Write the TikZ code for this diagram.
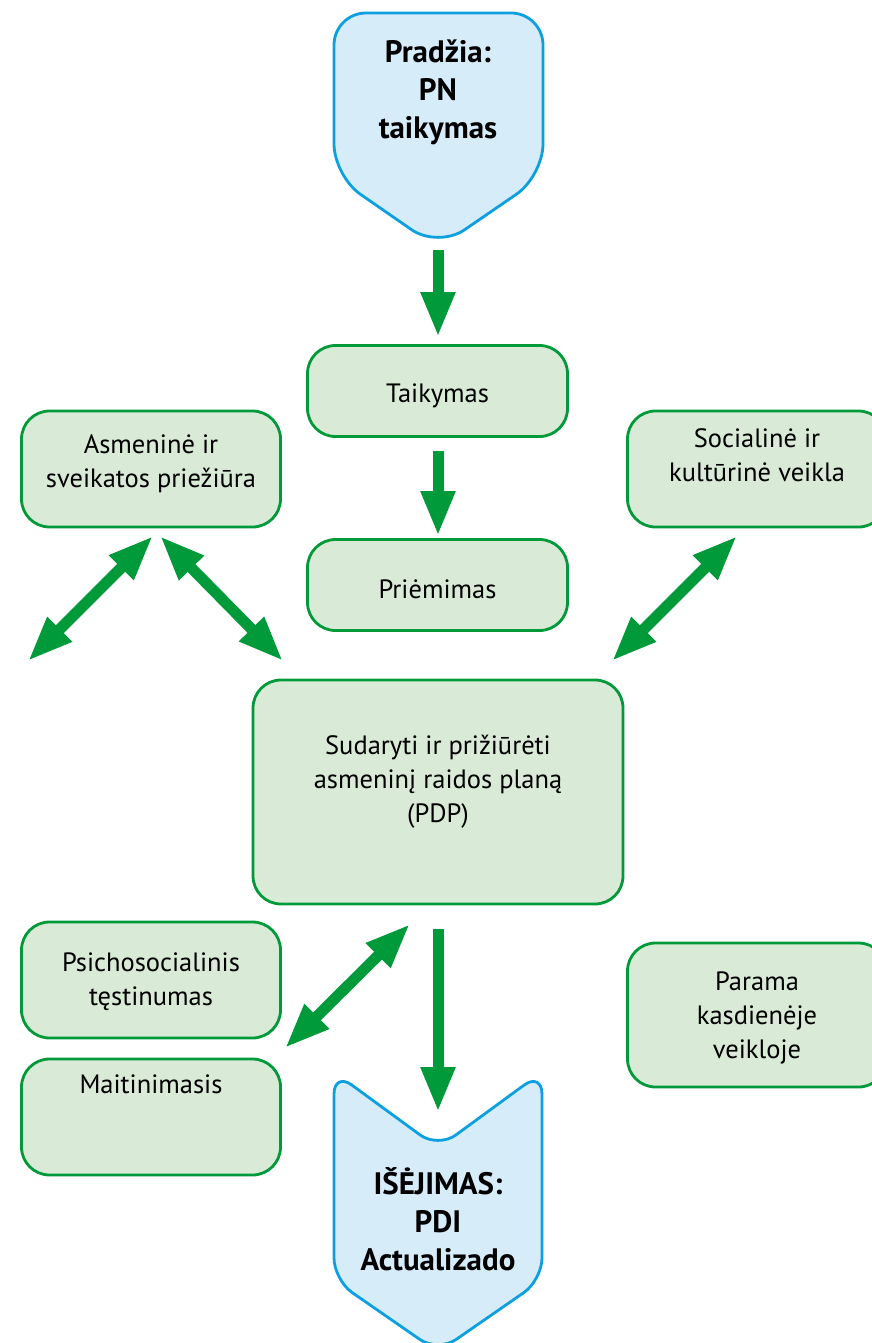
\documentclass[tikz,border=0pt]{standalone}
\usepackage{fontspec}
\setmainfont{PT Sans}
\usetikzlibrary{arrows.meta}
\definecolor{leaf}{HTML}{009A3A}
\definecolor{leaffill}{HTML}{D9EAD6}
\definecolor{sky}{HTML}{0CA0E0}
\definecolor{skyfill}{HTML}{D6ECF9}
\tikzset{
  box/.style={draw=leaf, fill=leaffill, line width=2.8pt, rounded corners=28pt, inner sep=0pt},
  txt/.style={font=\fontsize{26.5}{34}\selectfont, align=center, inner sep=0pt, anchor=base},
  ttl/.style={font=\bfseries\fontsize{31}{38}\selectfont, align=center, inner sep=0pt, anchor=base},
  tag/.style={draw=sky, fill=skyfill, line width=2.8pt},
  flow/.style={draw=leaf, line width=11pt, -{Triangle[length=45pt,width=32pt]}},
  link/.style={draw=leaf, line width=11pt, {Triangle[length=45pt,width=32pt]}-{Triangle[length=45pt,width=32pt]}},
}
\begin{document}
\begin{tikzpicture}[x=1pt, y=-1pt]
  \useasboundingbox (0,0) rectangle (872,1343);
  \clip (0,0) rectangle (872,1343);

  % entry shield (text anchored at the baseline of its last line)
  \draw[tag, rounded corners=32pt] (438,13) -- (543,13) -- (543,176) -- (438,248) -- (334,176) -- (334,13) -- cycle;
  \node[ttl] (start) at (438,139) {Pradžia:\\PN\\taikymas};

  % exit chevron
  \draw[tag, rounded corners=22pt] (542,1180) -- (542,1280) -- (438,1352) -- (334,1280) -- (334,1072) -- (438,1148) -- (542,1072) -- cycle;
  \node[ttl] (exit) at (438,1270) {IŠĖJIMAS:\\PDI\\Actualizado};

  % process boxes
  \node[box, minimum width=260pt, minimum height=91pt]  (apply)   at (437.5,391) {};
  \node[box, minimum width=260pt, minimum height=91pt]  (admit)   at (437.5,585) {};
  \node[box, minimum width=259pt, minimum height=116pt] (care)    at (151,469) {};
  \node[box, minimum width=259pt, minimum height=116pt] (social)  at (757,469) {};
  \node[box, minimum width=370pt, minimum height=224pt] (plan)    at (438,792) {};
  \node[box, minimum width=259pt, minimum height=116pt] (psy)     at (151,980) {};
  \node[box, minimum width=259pt, minimum height=116pt] (food)    at (151,1117) {};
  \node[box, minimum width=259pt, minimum height=144pt] (daily)   at (757,1015) {};

  \node[txt] (applyT)  at (437.5,402) {Taikymas};
  \node[txt] (admitT)  at (437.5,598) {Priėmimas};
  \node[txt] (careT)   at (151,487)   {Asmeninė ir\\sveikatos priežiūra};
  \node[txt] (socialT) at (757,481)   {Socialinė ir\\kultūrinė veikla};
  \node[txt] (planT)   at (438,822)   {Sudaryti ir prižiūrėti\\asmeninį raidos planą\\(PDP)};
  \node[txt] (psyT)    at (151,1005)  {Psichosocialinis\\tęstinumas};
  \node[txt] (foodT)   at (151,1093)  {Maitinimasis};
  \node[txt] (dailyT)  at (757,1058)  {Parama\\kasdienėje\\veikloje};

  % arrow end points
  \coordinate (e1) at (438,250);  \coordinate (e2) at (438,337);
  \coordinate (e3) at (438,451);  \coordinate (e4) at (438,536);
  \coordinate (e5) at (438,929);  \coordinate (e6) at (438,1112);
  \coordinate (l1) at (153,536);  \coordinate (l2) at (28,661);
  \coordinate (r1) at (160,536);  \coordinate (r2) at (283,661);
  \coordinate (s1) at (737,536);  \coordinate (s2) at (612,661);
  \coordinate (p1) at (410,924);  \coordinate (p2) at (285,1048);

  \draw[flow] (e1) -- (e2);
  \draw[flow] (e3) -- (e4);
  \draw[flow] (e5) -- (e6);
  \draw[link] (l1) -- (l2);
  \draw[link] (r1) -- (r2);
  \draw[link] (s1) -- (s2);
  \draw[link] (p1) -- (p2);
\end{tikzpicture}
\end{document}
